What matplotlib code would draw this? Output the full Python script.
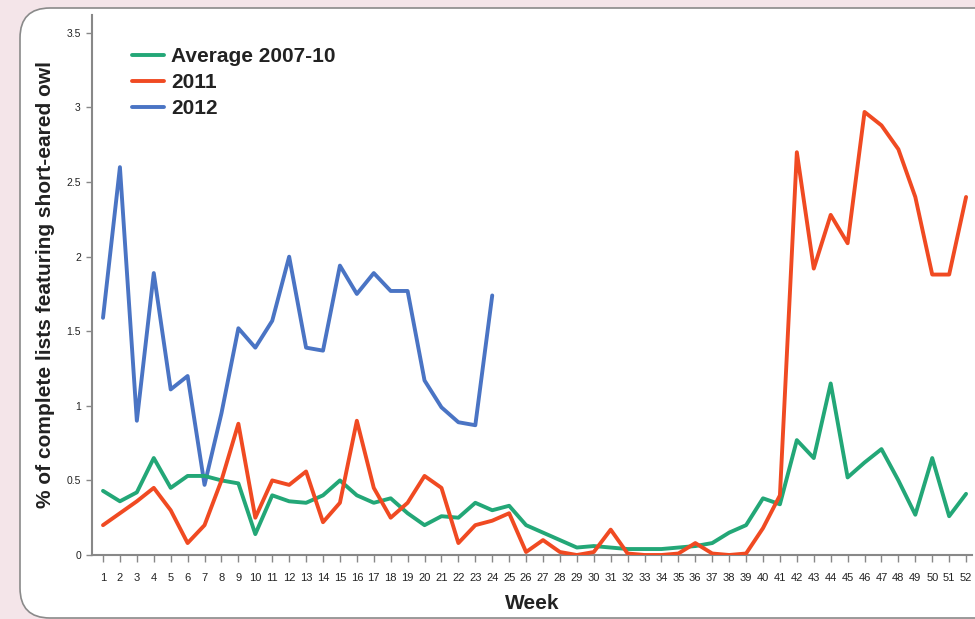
import numpy as np
import matplotlib
matplotlib.use("Agg")
import matplotlib.pyplot as plt
from matplotlib.patches import FancyBboxPatch
from matplotlib.transforms import IdentityTransform
from matplotlib.ticker import FuncFormatter

plt.rcParams["font.family"] = ["Liberation Sans", "DejaVu Sans"]

weeks = list(range(1, 53))

avg_2007_10 = [0.43, 0.36, 0.42, 0.65, 0.45, 0.53, 0.53, 0.50, 0.48, 0.14,
               0.40, 0.36, 0.35, 0.40, 0.50, 0.40, 0.35, 0.38, 0.28, 0.20,
               0.26, 0.25, 0.35, 0.30, 0.33, 0.20, 0.15, 0.10, 0.05, 0.06,
               0.05, 0.04, 0.04, 0.04, 0.05, 0.06, 0.08, 0.15, 0.20, 0.38,
               0.34, 0.77, 0.65, 1.15, 0.52, 0.62, 0.71, 0.50, 0.27, 0.65,
               0.26, 0.41]

y2011 = [0.20, 0.28, 0.36, 0.45, 0.30, 0.08, 0.20, 0.50, 0.88, 0.25,
         0.50, 0.47, 0.56, 0.22, 0.35, 0.90, 0.45, 0.25, 0.35, 0.53,
         0.45, 0.08, 0.20, 0.23, 0.28, 0.02, 0.10, 0.02, 0.00, 0.02,
         0.17, 0.01, 0.00, 0.00, 0.01, 0.08, 0.01, 0.00, 0.01, 0.18,
         0.40, 2.70, 1.92, 2.28, 2.09, 2.97, 2.88, 2.72, 2.40, 1.88,
         1.88, 2.40]

weeks_2012 = list(range(1, 25))
y2012 = [1.59, 2.60, 0.90, 1.89, 1.11, 1.20, 0.47, 0.95, 1.52, 1.39,
         1.57, 2.00, 1.39, 1.37, 1.94, 1.75, 1.89, 1.77, 1.77, 1.17,
         0.99, 0.89, 0.87, 1.74]

green = "#23a777"
red = "#f04a22"
blue = "#4a74c4"

fig = plt.figure(figsize=(9.75, 6.19), dpi=100)
fig.patch.set_facecolor("#f4e5e9")

# white rounded panel behind the chart (pixel coordinates)
panel = FancyBboxPatch((20, 1), 1000, 610,
                       boxstyle="round,pad=0,rounding_size=30",
                       transform=IdentityTransform(), facecolor="white",
                       edgecolor="#8a8a8a", linewidth=1.2, zorder=-5)
fig.patches.append(panel)

ax = fig.add_axes([92 / 975, 1 - 555 / 619, 880 / 975, (555 - 15) / 619])
ax.set_zorder(2)
ax.set_facecolor("none")

ax.plot(weeks, avg_2007_10, color=green, lw=2.8, solid_joinstyle="round",
        solid_capstyle="round", label="Average 2007-10", zorder=3)
ax.plot(weeks, y2011, color=red, lw=2.8, solid_joinstyle="round",
        solid_capstyle="round", label="2011", zorder=4)
ax.plot(weeks_2012, y2012, color=blue, lw=2.8, solid_joinstyle="round",
        solid_capstyle="round", label="2012", zorder=2)

ax.set_xlim(0.35, 52.35)
ax.set_ylim(0, 3.62)

ax.set_xticks(weeks)
ax.set_xticklabels([str(w) for w in weeks], fontsize=8, color="#222222")
ax.set_yticks([0, 0.5, 1, 1.5, 2, 2.5, 3, 3.5])
ax.yaxis.set_major_formatter(FuncFormatter(lambda v, p: f"{v:g}"))
ax.tick_params(axis="y", direction="out", length=4, width=1, color="#888888",
               labelsize=7.5, labelcolor="#222222", pad=4)
ax.tick_params(axis="x", direction="out", length=5, width=1, color="#888888",
               pad=8)

for side in ["top", "right"]:
    ax.spines[side].set_visible(False)
for side in ["left", "bottom"]:
    ax.spines[side].set_color("#888888")
    ax.spines[side].set_linewidth(1.5)

ax.set_ylabel("% of complete lists featuring short-eared owl", fontsize=15,
              fontweight="bold", color="#222222", labelpad=8)
ax.set_xlabel("Week", fontsize=15, fontweight="bold", color="#222222",
              labelpad=8)

leg = ax.legend(loc="upper left", bbox_to_anchor=(0.046, 0.94), frameon=False,
                fontsize=15, handlelength=1.5, handletextpad=0.35,
                labelspacing=0.33, borderaxespad=0, borderpad=0)
for t in leg.get_texts():
    t.set_fontweight("bold")
    t.set_color("#222222")

plt.savefig("out.png", dpi=100, facecolor=fig.get_facecolor())
